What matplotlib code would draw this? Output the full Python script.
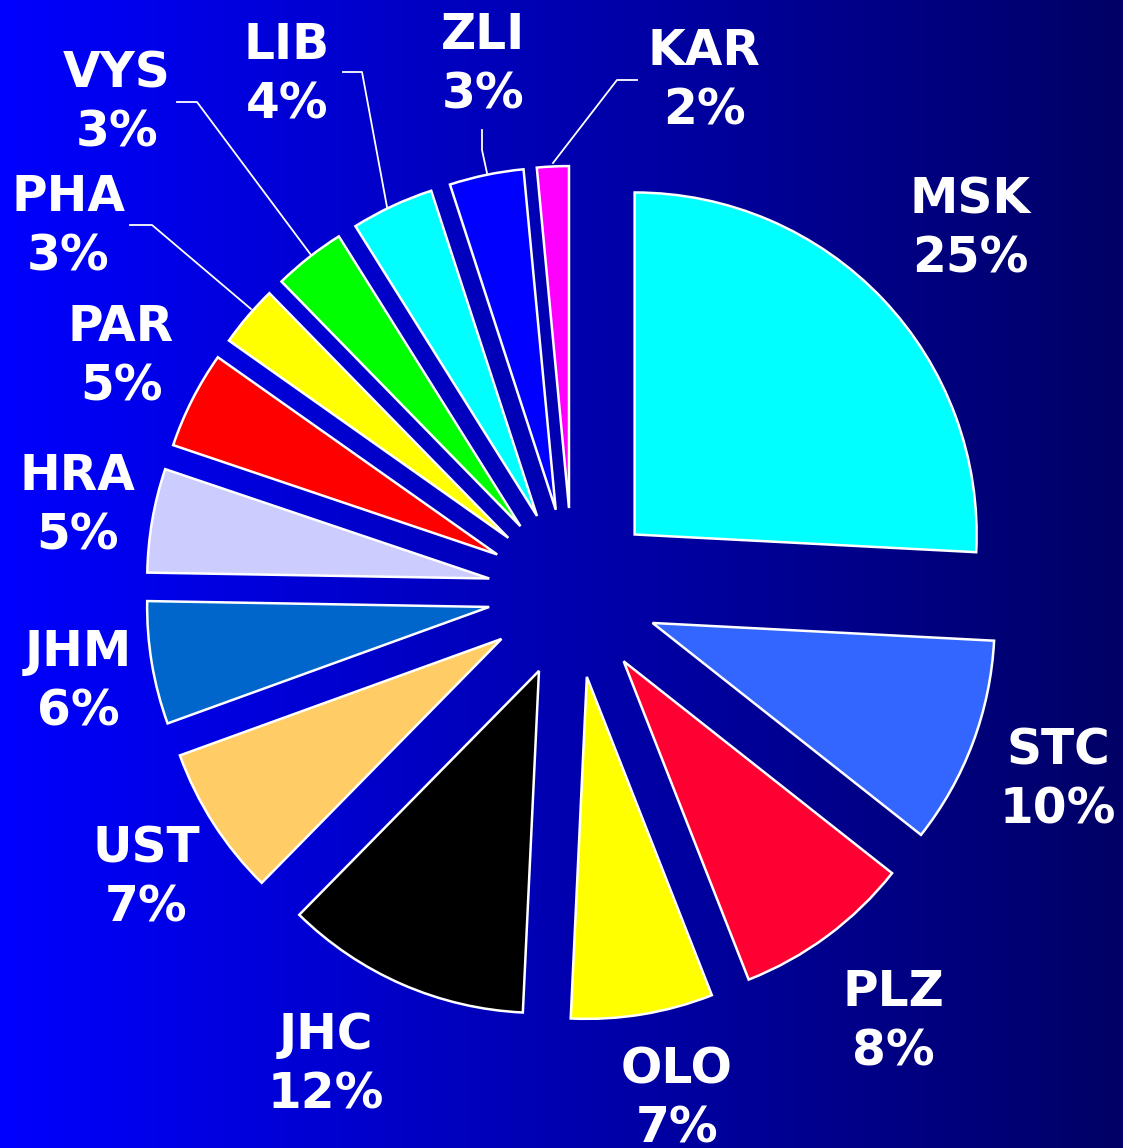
import numpy as np
import matplotlib.pyplot as plt
from matplotlib.colors import LinearSegmentedColormap

# Regions, clockwise from 12 o'clock
regions = ["MSK", "STC", "PLZ", "OLO", "JHC", "UST", "JHM",
           "HRA", "PAR", "PHA", "VYS", "LIB", "ZLI", "KAR"]
# shares
shares = [25.8, 9.8, 8.4, 6.7, 11.6, 7.1, 5.8, 4.9, 4.6, 2.9, 3.4, 3.9, 3.5, 1.5]
# printed percentages
pct_labels = ["25%", "10%", "8%", "7%", "12%", "7%", "6%",
              "5%", "5%", "3%", "3%", "4%", "3%", "2%"]
colors = ["#00FFFF", "#3366FF", "#FF0033", "#FFFF00", "#000000", "#FFCC66",
          "#0066CC", "#CCCCFF", "#FF0000", "#FFFF00", "#00FF00", "#00FFFF",
          "#0000FF", "#FF00FF"]

W, H = 1123, 1148
fig = plt.figure(figsize=(W / 100, H / 100), dpi=100)
ax = fig.add_axes([0, 0, 1, 1])

# background gradient, bright blue on the left to navy on the right
bg = LinearSegmentedColormap.from_list("bg", ["#0000FF", "#0000B0", "#000066"])
ax.imshow(np.linspace(0, 1, 256)[None, :], cmap=bg, aspect="auto",
          extent=[0, W, 0, H], zorder=0)

center = (573, H - 593)
radius = 342
wedges, _ = ax.pie(shares, colors=colors, startangle=90, counterclock=False,
                   radius=radius, center=center, explode=[85] * len(shares),
                   wedgeprops=dict(edgecolor="white", linewidth=1.8),
                   frame=True)
ax.set_xlim(0, W)
ax.set_ylim(0, H)
ax.set_aspect("equal")
ax.axis("off")

# label positions (pixels, image coordinates)
label_pos = {"MSK": (970, 229), "STC": (1058, 780), "PLZ": (893, 1022),
             "OLO": (677, 1099), "JHC": (326, 1065), "UST": (146, 878),
             "JHM": (78, 682), "HRA": (77, 506), "PAR": (121, 357),
             "PHA": (68, 227), "VYS": (117, 103), "LIB": (287, 75),
             "ZLI": (483, 65), "KAR": (704, 81)}

for name, pct in zip(regions, pct_labels):
    x, y = label_pos[name]
    ax.text(x, H - y, name + "\n" + pct, ha="center", va="center",
            color="white", fontsize=35, fontweight="bold",
            family="DejaVu Sans", linespacing=1.3)

# leader lines for the small slices
leaders = {"KAR": [(637, 80), (617, 80), (553, 163)],
           "ZLI": [(482, 130), (482, 150), (487, 173)],
           "LIB": [(343, 72), (362, 72), (387, 207)],
           "VYS": [(177, 102), (197, 102), (311, 255)],
           "PHA": [(130, 225), (152, 225), (251, 309)]}
for pts in leaders.values():
    xs = [p[0] for p in pts]
    ys = [H - p[1] for p in pts]
    ax.plot(xs, ys, color="white", linewidth=1.3)

fig.savefig("out.png", dpi=100)
